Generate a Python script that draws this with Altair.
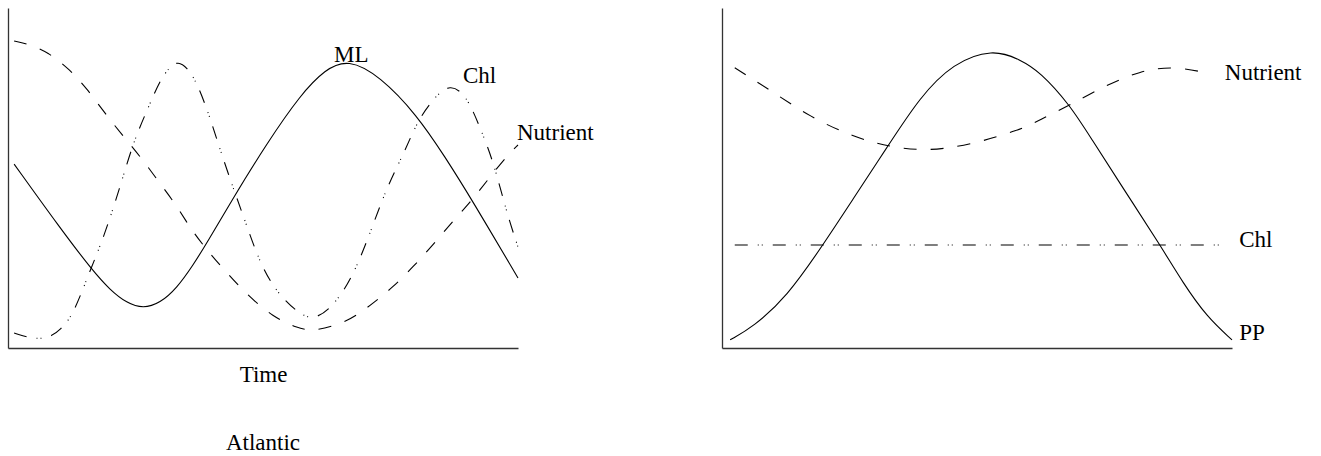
import altair as alt
import pandas as pd

# ---- Atlantic panel (time on x, relative magnitude on y, both 0-100) ----
ml_x = [1.2, 10.2, 16.5, 20.0, 23.3, 26.5, 29.8, 33.1, 36.3, 39.0, 43.9, 50.8, 57.3, 62.2, 66.7,
        72.9, 80.2, 85.7, 91.0, 100]
ml_y = [54.1, 35.3, 22.9, 17.1, 13.2, 11.6, 13.2, 17.6, 24.4, 30.9, 43.5, 60.3, 74.4, 82.0, 85.0,
        80.0, 68.5, 56.2, 43.5, 20.6]

nut_a_x = [1.2, 3.9, 7.8, 12.2, 15.7, 19.4, 22.9, 26.3, 29.6, 33.1, 35.7, 39.0, 42.9, 46.9, 52.0,
           56.7, 59.8, 66.7, 71.6, 75.5, 79.4, 83.3, 87.1, 91.0, 94.5, 98.0, 100]
nut_a_y = [90.3, 89.4, 87.1, 81.8, 75.9, 68.2, 61.8, 55.6, 48.8, 41.8, 35.3, 28.8, 22.1, 15.6, 9.1,
           5.9, 4.8, 7.6, 13.2, 17.9, 23.8, 30.3, 37.1, 43.5, 50.3, 56.8, 59.7]

chl_a_x = [1.2, 3.7, 6.3, 8.6, 10.2, 12.7, 16.1, 18.6, 22.0, 24.5, 27.3, 29.8, 31.8, 33.3, 35.1,
           37.1, 39.6, 41.6, 44.5, 46.9, 49.4, 52.7, 57.3, 60.2, 63.7, 67.6, 71.0, 74.3, 77.5,
           80.2, 83.3, 86.7, 90.0, 92.5, 95.1, 97.8, 100]
chl_a_y = [4.4, 3.2, 2.6, 3.5, 5.3, 9.4, 22.9, 31.8, 47.4, 60.3, 70.0, 78.8, 82.8, 84.3, 82.6,
           77.9, 67.9, 58.2, 45.6, 35.6, 25.0, 16.2, 9.7, 8.4, 12.1, 20.9, 33.8, 47.4, 56.8,
           66.5, 73.2, 78.0, 74.0, 65.0, 55.3, 39.7, 29.7]

labels_a = ["ML", "Chl", "Nutrient"]
labels_a_x = [67.3, 89.2, 99.8]
labels_a_y = [86.2, 80.0, 63.2]
labels_a_align = ["center", "left", "left"]

# ---- second panel ----
pp_x = [1.6, 6.1, 12.7, 19.8, 25.7, 32.4, 38.8, 45.3, 53.1, 58.4, 62.4, 68.2, 72.2, 78.6, 85.9,
        90.4, 95.1, 100]
pp_y = [2.4, 6.2, 15.0, 30.3, 43.8, 59.1, 73.8, 83.8, 88.0, 84.9, 81.2, 71.5, 62.1, 47.1, 30.3,
        19.1, 9.1, 2.4]

nut_b_x = [2.5, 9.4, 17.3, 25.7, 32.9, 40.2, 48.6, 58.4, 62.4, 68.2, 75.5, 82.0, 88.4, 95.1]
nut_b_y = [82.4, 75.9, 67.9, 62.1, 59.1, 57.9, 59.7, 64.1, 67.1, 71.5, 77.4, 81.5, 82.9, 80.9]

chl_b_x = [2.5, 98.6]
chl_b_y = [30.3, 30.3]

labels_b = ["Nutrient", "Chl", "PP"]
labels_b_x = [98.6, 101.4, 101.4]
labels_b_y = [80.9, 31.8, 4.4]

FONT = "Liberation Serif"
FS = 23
DASH = [13, 14]
DASH_DOT_DOT = [13, 10, 1, 3, 1, 10]

xs = alt.Scale(domain=[0, 100], nice=False, zero=False)
ys = alt.Scale(domain=[0, 100], nice=False, zero=False)


def enc(x_title):
    return dict(
        x=alt.X("t:Q", scale=xs, axis=alt.Axis(title=x_title)),
        y=alt.Y("v:Q", scale=ys, axis=alt.Axis(title="")),
    )


def curve(xv, yv, x_title, dash=None):
    df = pd.DataFrame({"t": xv, "v": yv})
    mark_kw = dict(color="black", strokeWidth=1.1, interpolate="basis", clip=False)
    if dash:
        mark_kw["strokeDash"] = dash
    return alt.Chart(df).mark_line(**mark_kw).encode(**enc(x_title))


def labels(names, lx, ly, align, x_title):
    df = pd.DataFrame({"name": names, "t": lx, "v": ly, "al": align})
    layers = []
    for a in sorted(set(align)):
        layers.append(
            alt.Chart(df[df["al"] == a]).mark_text(
                font=FONT, fontSize=FS, color="black", align=a, baseline="middle"
            ).encode(text="name:N", **enc(x_title))
        )
    return layers


left = alt.layer(
    curve(ml_x, ml_y, "Time"),
    curve(nut_a_x, nut_a_y, "Time", DASH),
    curve(chl_a_x, chl_a_y, "Time", DASH_DOT_DOT),
    *labels(labels_a, labels_a_x, labels_a_y, labels_a_align, "Time"),
).properties(
    width=510,
    height=340,
    title=alt.TitleParams("Atlantic", orient="bottom", anchor="middle", font=FONT,
                          fontSize=FS, fontWeight="normal", color="black", offset=46),
)

right = alt.layer(
    curve(pp_x, pp_y, ""),
    curve(nut_b_x, nut_b_y, "", DASH),
    curve(chl_b_x, chl_b_y, "", DASH_DOT_DOT),
    *labels(labels_b, labels_b_x, labels_b_y, ["left"] * 3, ""),
).properties(width=510, height=340)

chart = alt.hconcat(left, right, spacing=204, bounds="flush").properties(
    padding={"left": 8, "top": 8, "right": 0, "bottom": 0}
).configure_view(stroke=None).configure_axis(
    domain=True, domainColor="#333", domainWidth=1.3, ticks=False, labels=False, grid=False,
    titleFont=FONT, titleFontSize=FS, titleFontWeight="normal", titleColor="black", titlePadding=15,
)

chart.save("out.html", embed_options={"renderer": "svg", "actions": False})
